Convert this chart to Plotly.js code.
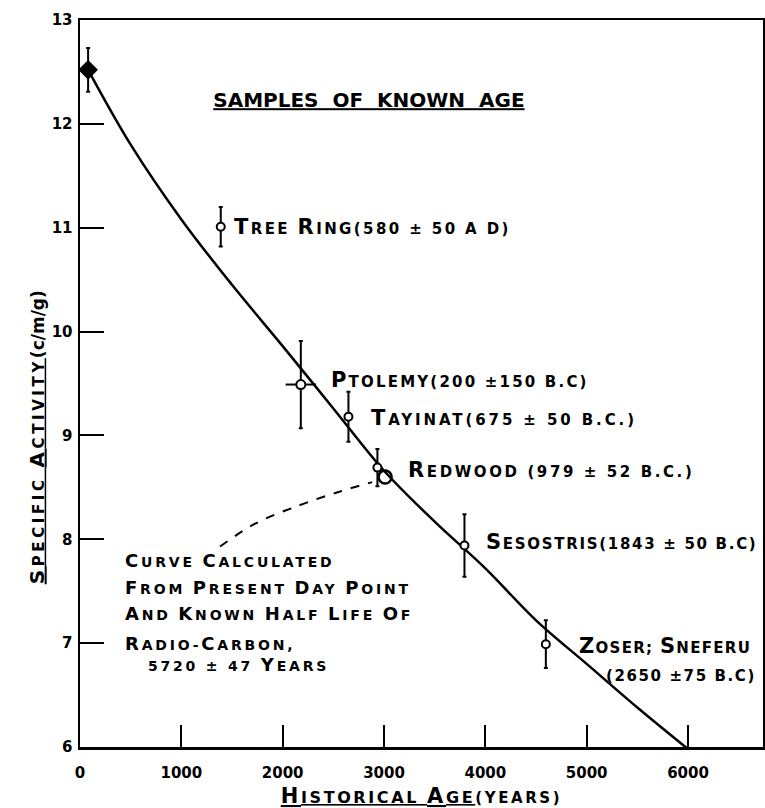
<!DOCTYPE html>
<html><head><meta charset="utf-8">
<script src="https://cdn.plot.ly/plotly-3.0.1.min.js"></script>
<style>html,body{margin:0;padding:0;background:#fff}</style>
</head><body><div id="chart" style="width:765px;height:808px"></div>
<script>
// ---- data ----
const sampleNames = ['Present Day', 'Tree Ring', 'Ptolemy', 'Tayinat', 'Redwood', 'Sesostris', 'Zoser; Sneferu'];
const sampleAge = [80, 1389, 2179, 2649, 2935, 3794, 4597];
const sampleActivity = [12.52, 11.01, 9.49, 9.18, 8.69, 7.94, 6.99];
const activityErr = [0.21, 0.19, 0.42, 0.24, 0.18, 0.30, 0.23];
const ageErr = [0, 0, 150, 0, 0, 0, 0];

const curveAge = [80, 500, 1000, 1500, 2000, 2500, 3000, 3500, 4000, 4500, 5000, 5500, 6000];
const curveActivity = [12.52, 11.80, 11.08, 10.45, 9.86, 9.26, 8.66, 8.17, 7.72, 7.22, 6.80, 6.38, 5.98];

const leaderAge = [1382, 1728, 2172, 2567, 2883];
const leaderActivity = [7.93, 8.15, 8.33, 8.46, 8.55];
const leaderEndAge = [3011];
const leaderEndActivity = [8.60];

const xTickVals = [0, 1000, 2000, 3000, 4000, 5000, 6000];
const xTickText = ['0', '1000', '2000', '3000', '4000', '5000', '6000'];
const yTickVals = [6, 7, 8, 9, 10, 11, 12, 13];
const yTickText = ['6', '7', '8', '9', '10', '11', '12', '13'];

const sampleLabels = ['', 'Tree Ring(580 ± 50 a d)', 'Ptolemy(200 ±150 b.c)', 'Tayinat(675 ± 50 b.c.)',
  'Redwood (979 ± 52 b.c.)', 'Sesostris(1843 ± 50 b.c)', 'Zoser; Sneferu'];
const extraLabel = '(2650 ±75 b.c)';
const noteLines = ['Curve Calculated', 'From Present Day Point', 'And Known Half Life Of', 'Radio-Carbon,', '5720 ± 47 Years'];

// ---- helpers: hand-lettered small-caps look ----
function sc(str, big, small, ls) {
  let out = '', run = '', runBig = null;
  const flush = () => {
    if (run) out += '<span style="font-size:' + (runBig ? big : small) + 'px;letter-spacing:' + ls + 'px">' + run + '</span>';
    run = '';
  };
  for (const ch of str) {
    const isBig = /[A-Z]/.test(ch);
    if (runBig !== null && isBig !== runBig) flush();
    runBig = isBig;
    run += ch.toUpperCase();
  }
  flush();
  return out;
}

const FONT = 'DejaVu Sans, sans-serif';

// label anchor positions (left edge, vertical middle) in data units, and letter spacing
const labelPos = [null, [1500, 11.01], [2460, 9.53], [2855, 9.17], [3220, 8.67], [3990, 7.97], [4900, 6.97]];
const labelLs = [0, 2.4, 2.2, 2.9, 2.6, 1.7, 1.3];
const extraPos = [5175, 6.68];
const notePos = [[420, 7.80], [420, 7.54], [420, 7.29], [420, 7.00], [655, 6.79]];

const annotations = [];
sampleLabels.forEach((t, i) => {
  if (!t) return;
  annotations.push({x: labelPos[i][0], y: labelPos[i][1], xref: 'x', yref: 'y', xanchor: 'left', yanchor: 'middle',
    text: sc(t, 21, 15, labelLs[i]), showarrow: false, font: {family: FONT, size: 15, color: '#000', weight: 'bold'}});
});
annotations.push({x: extraPos[0], y: extraPos[1], xref: 'x', yref: 'y', xanchor: 'left', yanchor: 'middle',
  text: sc(extraLabel, 21, 15, 1.6), showarrow: false, font: {family: FONT, size: 15, color: '#000', weight: 'bold'}});
noteLines.forEach((t, i) => {
  annotations.push({x: notePos[i][0], y: notePos[i][1], xref: 'x', yref: 'y', xanchor: 'left', yanchor: 'middle',
    text: sc(t, 18, 14, 2.8), showarrow: false, font: {family: FONT, size: 14, color: '#000', weight: 'bold'}});
});
// y-axis title placed along the axis like the reference
annotations.push({x: -0.063, y: 0.426, xref: 'paper', yref: 'paper', xanchor: 'center', yanchor: 'middle', textangle: -90,
  text: '<u>' + sc('Specific Activity', 20, 15, 3.6) + '</u>' + '<span style="font-size:17px">(c/m/g)</span>',
  showarrow: false, font: {family: FONT, size: 15, color: '#000', weight: 'bold'}});

const traces = [
  {x: curveAge, y: curveActivity, mode: 'lines', line: {color: '#000', width: 2.5, shape: 'spline'}, hoverinfo: 'skip', showlegend: false},
  {x: leaderAge, y: leaderActivity, mode: 'lines', line: {color: '#000', width: 2, dash: 'dash', shape: 'spline'}, hoverinfo: 'skip', showlegend: false},
  {x: leaderEndAge, y: leaderEndActivity, mode: 'markers', marker: {symbol: 'circle-open', size: 13, color: '#000', opacity: 1, line: {width: 2.5, color: '#000'}}, showlegend: false},
  {x: sampleAge, y: sampleActivity, text: sampleNames, mode: 'markers', showlegend: false,
    marker: {symbol: ['diamond', 'circle', 'circle', 'circle', 'circle', 'circle', 'circle'],
      size: [13, 8, 9, 8, 8, 8, 8], opacity: 1,
      color: ['#000', '#fff', '#fff', '#fff', '#fff', '#fff', '#fff'],
      line: {color: '#000', width: 2}},
    error_y: {type: 'data', array: activityErr, visible: true, color: '#000', thickness: 2, width: 2},
    error_x: {type: 'data', array: ageErr, visible: true, color: '#000', thickness: 2, width: 0}}
];

const layout = {
  width: 765, height: 808,
  margin: {l: 80, r: 2, t: 20, b: 61},
  paper_bgcolor: '#fff', plot_bgcolor: '#fff',
  title: {text: '<u>SAMPLES  OF  KNOWN  AGE</u>',
    font: {family: FONT, size: 20, color: '#000', weight: 'bold'}, xref: 'paper', x: 0.423, xanchor: 'center', y: 0.876, yanchor: 'middle'},
  xaxis: {range: [0, 6740], tickvals: xTickVals, ticktext: xTickText, ticks: 'inside', ticklen: 22, tickwidth: 2, tickcolor: '#000',
    showline: true, linewidth: 2.5, linecolor: '#000', mirror: true, showgrid: false, zeroline: false,
    ticklabelstandoff: 10,
    tickfont: {family: FONT, size: 15, color: '#000', weight: 'bold'},
    title: {text: '<u>' + sc('Historical Age', 21, 16, 2.6) + '</u>' + sc('(years)', 15, 15, 2.6), font: {family: FONT, size: 15, color: '#000', weight: 'bold'}, standoff: 13}},
  yaxis: {range: [6, 13], tickvals: yTickVals, ticktext: yTickText, ticks: 'inside', ticklen: 24, tickwidth: 2, tickcolor: '#000',
    showline: true, linewidth: 2.5, linecolor: '#000', mirror: true, showgrid: false, zeroline: false,
    ticklabelstandoff: 2,
    tickfont: {family: FONT, size: 15, color: '#000', weight: 'bold'},
    title: {text: ''}},
  annotations: annotations,
  showlegend: false
};

Plotly.newPlot('chart', traces, layout, {displayModeBar: false, staticPlot: true});
</script>
</body></html>
